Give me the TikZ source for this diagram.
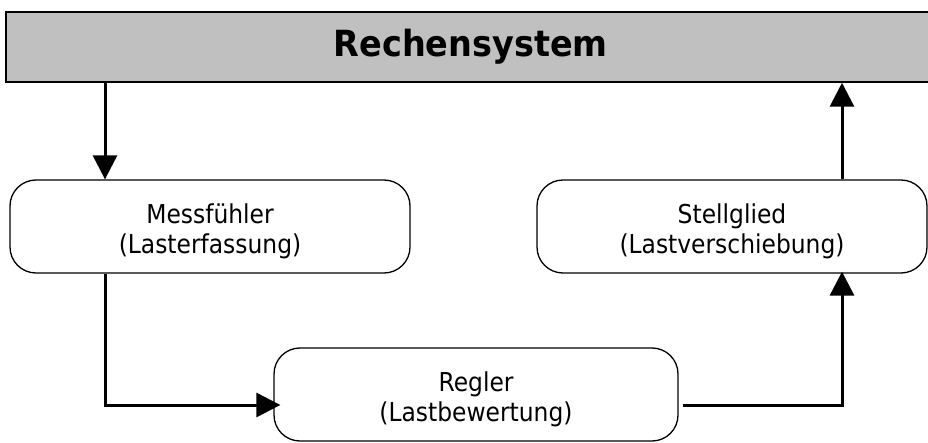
\documentclass[tikz,border=0pt]{standalone}
\usepackage{fontspec}
\setmainfont{DejaVu Sans}[FakeStretch=0.9]
\newfontfamily\headfont{DejaVu Sans}[FakeStretch=0.93]
\usetikzlibrary{arrows.meta}
\definecolor{barfill}{HTML}{C0C0C0}

\begin{document}
\begin{tikzpicture}[x=1pt,y=-1pt,
  block/.style={draw, line width=1.3pt, rounded corners=26pt,
    minimum width=#1, minimum height=93pt, inner sep=0pt},
  lbl/.style={font=\fontsize{26}{30}\selectfont, align=center, inner sep=0pt, yshift=-5pt},
  flow/.style={line width=3pt, -{Triangle[length=24pt,width=24pt]}}
]
\useasboundingbox (0,0) rectangle (928,443);

% top bar
\node[draw, fill=barfill, line width=1.5pt, minimum width=930pt, minimum height=70pt,
      inner sep=0pt, anchor=west, font=\headfont\bfseries\fontsize{36}{40}\selectfont]
      (bar) at (5,47) {Rechensystem};

% the three blocks
\node[block=400pt] (mess) at (210,226.5) {};
\node[block=390pt] (stell) at (732,226.5) {};
\node[block=404pt] (regler) at (476,394.5) {};

\node[lbl] (messtext) at (mess.center) {Messfühler\\(Lasterfassung)};
\node[lbl] (stelltext) at (stell.center) {Stellglied\\(Lastverschiebung)};
\node[lbl] (reglertext) at (regler.center) {Regler\\(Lastbewertung)};

% verticals of the loop
\coordinate (mx) at ([xshift=-105pt]mess.north);
\coordinate (sx) at ([xshift=110pt]stell.north);

% connectors
\draw[flow] (mx |- bar.south) -- (mx |- mess.north);
\draw[flow, shorten >=-7pt] (mx |- mess.south) |- ([yshift=-10.5pt]regler.west);
\draw[flow, shorten >=-2pt] ([xshift=4pt,yshift=-10.5pt]regler.east) -| (sx |- stell.south);
\draw[flow] (sx |- stell.north) -- (sx |- bar.south);
\end{tikzpicture}
\end{document}
